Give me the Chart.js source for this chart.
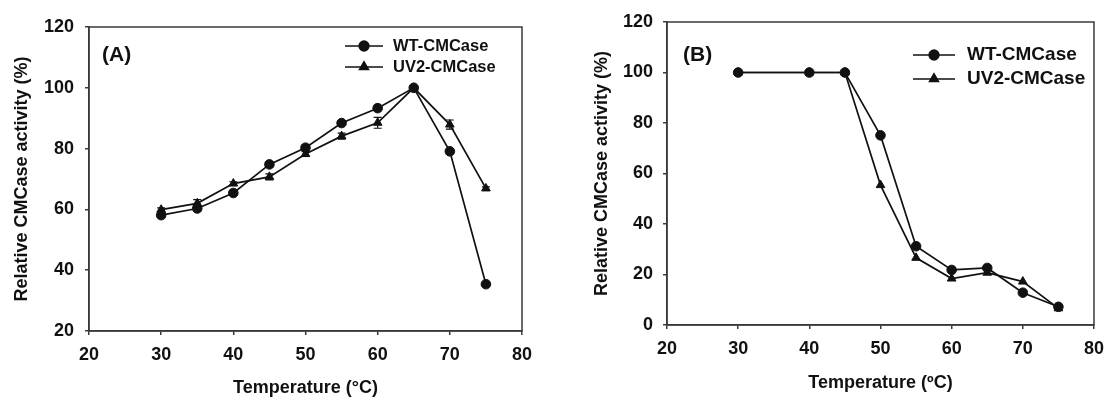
<!DOCTYPE html>
<html><head><meta charset="utf-8">
<script src="https://cdn.jsdelivr.net/npm/chart.js@4.4.0/dist/chart.umd.min.js"></script>
<style>
html,body{margin:0;padding:0;background:#fff;width:1113px;height:399px;overflow:hidden}
#wa{position:absolute;left:0;top:0;width:556px;height:399px}
#wb{position:absolute;left:556px;top:0;width:557px;height:399px}
</style></head><body>
<div id="wa"><canvas id="ca"></canvas></div>
<div id="wb"><canvas id="cb"></canvas></div>
<script>
// ---- data ----
const tempA = [30,35,40,45,50,55,60,65,70,75];
const wtA   = [58.1,60.3,65.4,74.8,80.3,88.4,93.3,100,79.1,35.4];
const uvA   = [59.9,62.0,68.5,70.7,78.2,84.1,88.5,100,87.9,66.9];
const wtErrA = [0.8,0.8,0.8,0.8,0.8,0.8,0.9,0.5,0.8,0.6];
const uvErrA = [0.6,1.2,0.6,1.0,0.8,1.0,1.8,0.5,1.5,0.5];
const tempB = [30,40,45,50,55,60,65,70,75];
const wtB   = [100,100,100,75.1,31.2,21.8,22.6,12.8,7.2];
const uvB   = [100,100,100,55.4,26.6,18.4,20.7,17.2,6.6];
const xTicks  = [20,30,40,50,60,70,80];
const yTicksA = [20,40,60,80,100,120];
const yTicksB = [0,20,40,60,80,100,120];
const seriesNames = ['WT-CMCase','UV2-CMCase'];
const yTitle = 'Relative CMCase activity (%)';
const xTitleA = 'Temperature (°C)';
const xTitleB = 'Temperature (ºC)';

const FONT = '"Liberation Sans", Arial, Helvetica, sans-serif';
const INK = '#111';
const FRAME = '#3a3a3a';

function pts(xs, ys){ return xs.map((x,i)=>({x:x, y:ys[i]})); }

const errorBars = {
  id:'errorBars',
  beforeDatasetsDraw(chart){
    const ctx = chart.ctx, ys = chart.scales.y, xs = chart.scales.x;
    chart.data.datasets.forEach(ds=>{
      if(!ds.errors) return;
      ctx.save(); ctx.strokeStyle = INK; ctx.lineWidth = 1.2;
      ds.data.forEach((p,i)=>{
        const e = ds.errors[i]; if(!e) return;
        const px = xs.getPixelForValue(p.x);
        const y1 = ys.getPixelForValue(p.y+e), y2 = ys.getPixelForValue(p.y-e);
        ctx.beginPath();
        ctx.moveTo(px,y1); ctx.lineTo(px,y2);
        ctx.moveTo(px-4,y1); ctx.lineTo(px+4,y1);
        ctx.moveTo(px-4,y2); ctx.lineTo(px+4,y2);
        ctx.stroke();
      });
      ctx.restore();
    });
  }
};

const frame = {
  id:'frame',
  afterDatasetsDraw(chart){
    const {ctx, chartArea:a} = chart;
    ctx.save(); ctx.strokeStyle = FRAME; ctx.lineWidth = 1.5;
    ctx.strokeRect(a.left, a.top, a.right-a.left, a.bottom-a.top);
    ctx.restore();
  }
};

const legendAndLabel = {
  id:'legendAndLabel',
  afterDraw(chart, args, o){
    const ctx = chart.ctx;
    ctx.save();
    ctx.fillStyle = INK;
    ctx.font = 'bold ' + o.panelSize + 'px ' + FONT;
    ctx.textAlign = 'left'; ctx.textBaseline = 'middle';
    ctx.fillText(o.panel, o.panelX, o.panelY);
    chart.data.datasets.forEach((ds,i)=>{
      const y = o.y0 + i*o.dy;
      ctx.strokeStyle = INK; ctx.lineWidth = 1.7;
      ctx.beginPath(); ctx.moveTo(o.x, y); ctx.lineTo(o.x+o.len, y); ctx.stroke();
      ctx.fillStyle = INK;
      Chart.helpers.drawPoint(ctx, {pointStyle: ds.pointStyle, radius: ds.pointRadius, rotation:0, borderWidth:1}, o.x+o.len/2, y);
      ctx.fillStyle = INK;
      ctx.font = 'bold ' + o.size + 'px ' + FONT;
      ctx.fillText(ds.label, o.x+o.len+o.gap, y);
    });
    ctx.restore();
  }
};

function makeChart(id, cfg){
  const mkDs = (label, data, style, r, errs)=>({
    label, data, errors: errs,
    borderColor: INK, backgroundColor: INK, borderWidth: 1.7,
    pointStyle: style, pointRadius: r, pointBorderColor: INK, pointBackgroundColor: INK,
    pointBorderWidth: 1, tension: 0, fill: false
  });
  return new Chart(document.getElementById(id), {
    type:'line',
    data:{ datasets:[
      mkDs(seriesNames[0], pts(cfg.xs, cfg.wt), 'circle', 4.8, cfg.wtErr),
      mkDs(seriesNames[1], pts(cfg.xs, cfg.uv), 'triangle', 5, cfg.uvErr)
    ]},
    options:{
      responsive:true, maintainAspectRatio:false, animation:false,
      layout:{ padding: cfg.pad },
      plugins:{ legend:{display:false}, tooltip:{enabled:false},
        legendAndLabel: cfg.leg },
      scales:{
        x:{ type:'linear', min:20, max:80,
          afterBuildTicks: s=>{ s.ticks = xTicks.map(v=>({value:v})); },
          afterFit: s=>{ s.height = cfg.xH; },
          grid:{ drawOnChartArea:false, drawTicks:true, tickLength:4, color:FRAME, lineWidth:1.5 },
          border:{ display:true, color:FRAME, width:1.5 },
          ticks:{ color:INK, padding:cfg.xTickPad, maxRotation:0, font:{family:FONT, size:cfg.tickSize, weight:'bold'} },
          title:{ display:true, text:cfg.xTitle, color:INK, padding:{top:0,bottom:cfg.xTitlePad},
                  font:{family:FONT, size:cfg.titleSize, weight:'bold', lineHeight:1.2} }
        },
        y:{ type:'linear', min:cfg.ymin, max:120,
          afterBuildTicks: s=>{ s.ticks = cfg.yTicks.map(v=>({value:v})); },
          afterFit: s=>{ s.width = cfg.yW; },
          grid:{ drawOnChartArea:false, drawTicks:true, tickLength:4, color:FRAME, lineWidth:1.5 },
          border:{ display:true, color:FRAME, width:1.5 },
          ticks:{ color:INK, padding:cfg.yTickPad, font:{family:FONT, size:cfg.tickSize, weight:'bold'} },
          title:{ display:true, text:yTitle, color:INK, padding:{top:cfg.yTitlePad,bottom:0},
                  font:{family:FONT, size:cfg.titleSize, weight:'bold', lineHeight:1.2} }
        }
      }
    },
    plugins:[errorBars, frame, legendAndLabel]
  });
}

makeChart('ca', {
  xs: tempA, wt: wtA, uv: uvA, wtErr: wtErrA, uvErr: uvErrA,
  ymin: 20, yTicks: yTicksA, xTitle: xTitleA,
  pad:{left:0, top:27, right:34, bottom:0}, yW:89, xH:68,
  tickSize:18, titleSize:18, xTickPad:9, yTickPad:11, xTitlePad:0, yTitlePad:11,
  leg:{ panel:'(A)', panelX:102, panelY:55, panelSize:21, x:345, y0:46, dy:21, len:38, gap:10, size:16.5 }
});
makeChart('cb', {
  xs: tempB, wt: wtB, uv: uvB, wtErr: null, uvErr: null,
  ymin: 0, yTicks: yTicksB, xTitle: xTitleB,
  pad:{left:0, top:22, right:11, bottom:0}, yW:111, xH:74,
  tickSize:18, titleSize:18, xTickPad:9, yTickPad:10, xTitlePad:5, yTitlePad:35,
  leg:{ panel:'(B)', panelX:127, panelY:55, panelSize:21, x:357, y0:55, dy:24, len:42, gap:12, size:19 }
});
</script>
</body></html>
